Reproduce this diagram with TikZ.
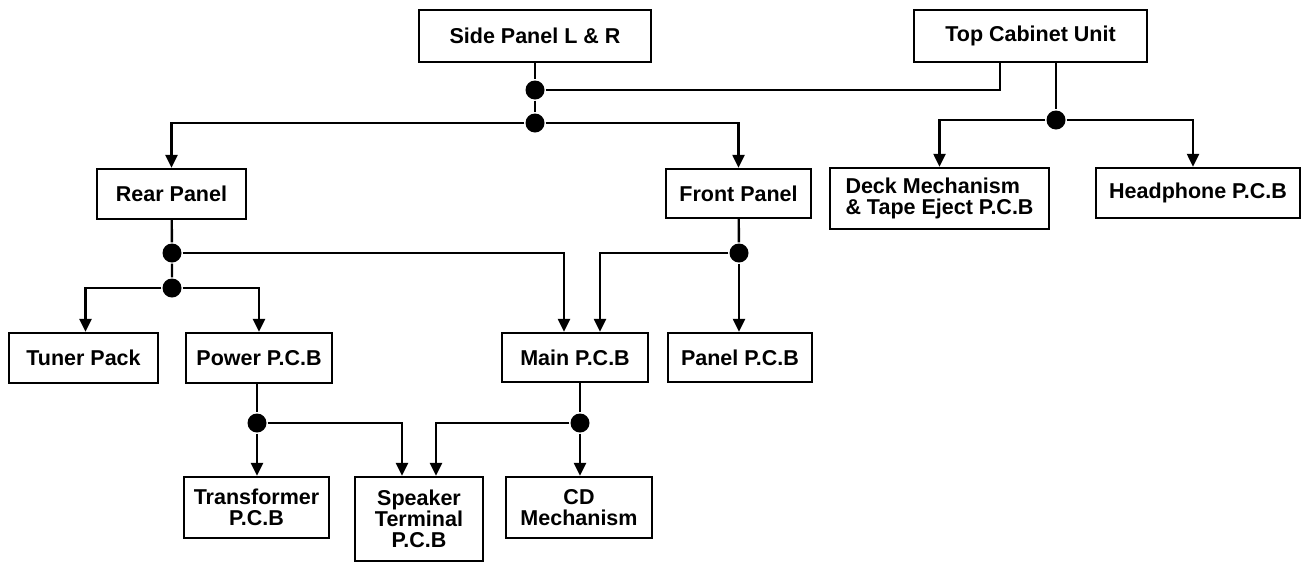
\documentclass[tikz,border=0pt]{standalone}
\usepackage{fontspec}
\setmainfont{Liberation Sans}
\usetikzlibrary{arrows.meta,calc}

\tikzset{
  unitbox/.style={draw, line width=1.2pt, align=center, inner sep=2pt,
    font=\bfseries\fontsize{10.75}{10.5}\selectfont},
  feed/.style={-{Triangle[length=6.5pt,width=6pt]}},
  joint/.style={circle, fill, inner sep=0pt, minimum size=9.5pt},
}

\begin{document}
\begin{tikzpicture}[x=0.5pt,y=-0.5pt,line width=1.2pt]
\useasboundingbox (0,0) rectangle (1305,563);

%====================================================
% CAJAS
%====================================================
\node[unitbox, minimum width=116pt, minimum height=26pt] (side) at (535,36) {Side Panel L \& R};
\node[unitbox, minimum width=116.5pt, minimum height=26pt] (top) at (1030.5,36) {Top Cabinet Unit};

\node[unitbox, minimum width=74.5pt, minimum height=25pt] (rear) at (171.5,194) {Rear Panel};
\node[unitbox, minimum width=72.5pt, minimum height=24.5pt] (front) at (738.5,193.5) {Front Panel};
\node[unitbox, align=left, minimum width=109.5pt, minimum height=30.5pt] (deck) at (939.5,198.5) {Deck Mechanism\\\& Tape Eject P.C.B};
\node[unitbox, minimum width=102pt, minimum height=25pt] (head) at (1198,193) {Headphone P.C.B};

\node[unitbox, minimum width=74.5pt, minimum height=25pt] (tuner) at (83.5,358) {Tuner Pack};
\node[unitbox, minimum width=73pt, minimum height=25pt] (power) at (259,358) {Power P.C.B};
\node[unitbox, minimum width=73pt, minimum height=24.5pt] (main) at (575,357.5) {Main P.C.B};
\node[unitbox, minimum width=72pt, minimum height=24.5pt] (panel) at (740,357.5) {Panel P.C.B};

\node[unitbox, minimum width=72.5pt, minimum height=30.5pt] (trans) at (256.5,507.5) {Transformer\\P.C.B};
\node[unitbox, minimum width=64pt, minimum height=42pt] (speaker) at (419,519) {Speaker\\Terminal\\P.C.B};
\node[unitbox, minimum width=73pt, minimum height=30.5pt] (cd) at (579,507.5) {CD\\Mechanism};

%====================================================
% PUNTOS DE UNION
%====================================================
\node[joint] (d1) at (535,90) {};
\node[joint] (d2) at (535,123) {};
\node[joint] (dt) at (1056,120) {};
\node[joint] (dr1) at (172,253) {};
\node[joint] (dr2) at (172,288) {};
\node[joint] (df) at (739,253) {};
\node[joint] (dp) at (257,423) {};
\node[joint] (dm) at (580,423) {};

%====================================================
% CONEXIONES
%====================================================
\draw (side) -- (d1) -- (d2);
\draw (d1) -| ([xshift=-15.25pt]top.south);
\draw[feed] (d2) -| (rear);
\draw[feed] (d2) -| (front);

\draw (dt |- top.south) -- (dt);
\draw[feed] (dt) -| (deck);
\draw[feed] (dt) -| ([xshift=-2.5pt]head.north);

\draw (rear) -- (dr1) -- (dr2);
\draw[feed] (dr1) -| ([xshift=-5.5pt]main.north);
\draw[feed] (dr2) -| ([xshift=1pt]tuner.north);
\draw[feed] (dr2) -| (power);

\draw (front) -- (df);
\draw[feed] (df) -| ([xshift=12.5pt]main.north);
\draw[feed] (df) -- (df |- panel.north);

\draw (dp |- power.south) -- (dp);
\draw[feed] (dp) -- (dp |- trans.north);
\draw[feed] (dp) -| ([xshift=-8.5pt]speaker.north);

\draw (dm |- main.south) -- (dm);
\draw[feed] (dm) -| ([xshift=8.5pt]speaker.north);
\draw[feed] (dm) -- (dm |- cd.north);
\end{tikzpicture}
\end{document}
